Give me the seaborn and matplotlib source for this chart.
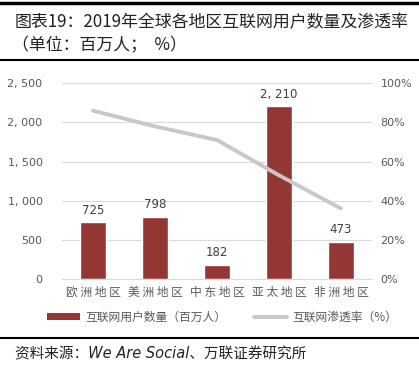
import matplotlib
matplotlib.use("Agg")
import matplotlib.pyplot as plt
import seaborn as sns
import numpy as np
import pandas as pd
from matplotlib.lines import Line2D
from matplotlib.patches import Patch

regions = ['欧洲地区', '美洲地区', '中东地区', '亚太地区', '非洲地区']
users = [725, 798, 182, 2210, 473]
penetration = [86, 78, 71, 53, 36]
left_ticks = [0, 500, 1000, 1500, 2000, 2500]
right_ticks = [0, 20, 40, 60, 80, 100]

sns.set_style('white')
plt.rcParams['font.family'] = ['Noto Sans CJK SC', 'DejaVu Sans']

bar_color = '#943634'
line_color = '#c8c8c8'
text_gray = '#595959'

fig = plt.figure(figsize=(4.19, 3.79), dpi=100)
ax = fig.add_axes([62 / 419, 1 - 279 / 379, 310 / 419, 195.7 / 379])

df = pd.DataFrame({'region': regions, 'users': users})
sns.barplot(data=df, x='region', y='users', color=bar_color, width=0.42,
            saturation=1, ax=ax, zorder=2)
ax.set_ylim(0, 2500)
ax.set_yticks(left_ticks)
ax.set_yticklabels(['0' if v == 0 else f'{v:,}'.replace(',', ', ') for v in left_ticks],
                   color=text_gray, fontsize=8, family='DejaVu Sans')
ax.set_xlabel('')
ax.set_ylabel('')
ax.set_xticks(range(len(regions)))
ax.set_xticklabels([' '.join(r) for r in regions], fontsize=8.5)
ax.tick_params(axis='x', colors=text_gray, length=0, pad=5)
ax.tick_params(axis='y', length=0, pad=14)
ax.grid(axis='y', color='#d9d9d9', linewidth=0.8, zorder=0)
for s in ax.spines.values():
    s.set_visible(False)
ax.spines['bottom'].set_visible(True)
ax.spines['bottom'].set_color('#d9d9d9')

for i, v in enumerate(users):
    ax.text(i, v + 70, f'{v:,}'.replace(',', ', '), ha='center', va='bottom',
            fontsize=8.5, color='#404040', family='DejaVu Sans')

ax2 = ax.twinx()
sns.lineplot(x=np.arange(len(regions)), y=penetration, color=line_color,
             linewidth=2.8, ax=ax2)
ax2.set_ylim(0, 100)
ax2.set_yticks(right_ticks)
ax2.set_yticklabels([f'{v}%' for v in right_ticks], color=text_gray, fontsize=8,
                    family='DejaVu Sans')
ax2.tick_params(axis='y', length=0, pad=6)
for s in ax2.spines.values():
    s.set_visible(False)
ax.set_xlim(-0.5, 4.5)

# title block
fig.add_artist(Line2D([0, 1], [1 - 3 / 379] * 2, color='black', linewidth=2.5))
fig.text(15 / 419, 1 - 22 / 379, '图表19：2019年全球各地区互联网用户数量及渗透率',
         fontsize=12.2, va='center', ha='left', color='#222222')
fig.text(12 / 419, 1 - 45 / 379, '（单位：百万人；  %）',
         fontsize=12.2, va='center', ha='left', color='#222222')
fig.add_artist(Line2D([0, 1], [1 - 59.5 / 379] * 2, color='black', linewidth=1.5))

handles = [Patch(facecolor=bar_color, edgecolor='none'),
           Line2D([0], [0], color=line_color, linewidth=2.8)]
fig.legend(handles, ['互联网用户数量（百万人）', '互联网渗透率（%）'],
           loc='center', bbox_to_anchor=(0.53, 1 - 317 / 379), ncol=2, frameon=False,
           prop={'size': 8.5}, labelcolor=text_gray, handlelength=2.8, handleheight=0.6,
           columnspacing=2.4, handletextpad=0.4)

fig.add_artist(Line2D([0, 1], [1 - 338 / 379] * 2, color='black', linewidth=1.5))
fig.text(15 / 419, 1 - 354 / 379, '资料来源：We Are Social、万联证券研究所',
         fontsize=10.5, va='center', ha='left', style='italic', color='#222222',
         family=['DejaVu Sans', 'Noto Sans CJK SC'])

fig.savefig('out.png', dpi=100)
